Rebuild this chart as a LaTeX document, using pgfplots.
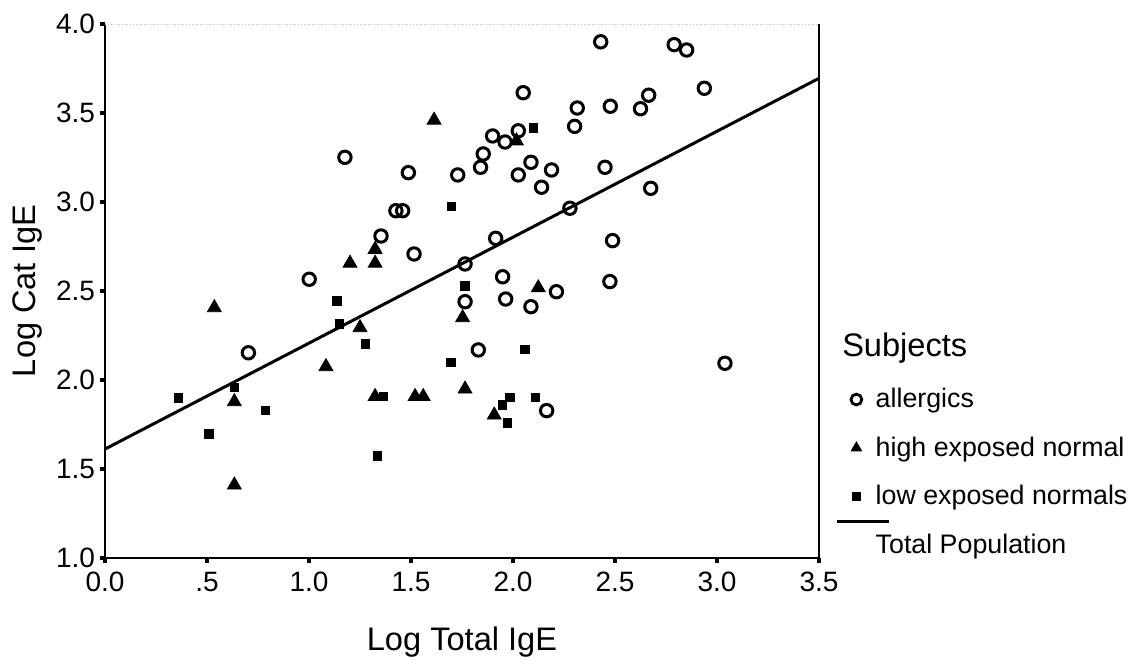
\documentclass[border=0pt]{standalone}
\usepackage{fontspec}
\setmainfont{Liberation Sans}
\usepackage{pgfplots}
\pgfplotsset{compat=1.18}
\pgfplotsset{
    marklegend/.style={legend image code/.code={\path (0pt,0pt) (12pt,0pt); \draw[##1] plot coordinates {(5pt,0pt)};}},
    linelegend/.style={legend image code/.code={\path (0pt,0pt) (12pt,0pt); \draw[##1, overlay] (-4.5pt,11.5pt) -- (21.5pt,11.5pt);}},
}

\begin{document}
\begin{tikzpicture}
\begin{axis}[
    name=ax,
    scale only axis,
    width=357pt, height=267pt,
    xmin=0, xmax=3.5, ymin=1, ymax=4,
    axis x line*=bottom, axis y line*=left,
    axis line style={-, line width=1.3pt},
    xtick={0,0.5,1,1.5,2,2.5,3,3.5},
    xticklabels={0.0,.5,1.0,1.5,2.0,2.5,3.0,3.5},
    ytick={1,1.5,2,2.5,3,3.5,4},
    yticklabels={1.0,1.5,2.0,2.5,3.0,3.5,4.0},
    tick align=outside,
    major tick length=2.5pt,
    tick style={line width=2pt, black},
    tick label style={font=\fontsize{14}{16}\selectfont},
    /pgf/number format/assume math mode=true,
    xticklabel style={yshift=-1pt},
    yticklabel style={xshift=1pt},
    xlabel={Log Total IgE},
    ylabel={Log Cat IgE},
    label style={font=\fontsize{16.3}{19}\selectfont},
    xlabel style={at={(axis description cs:0.5,-0.158)}, anchor=center},
    ylabel style={at={(axis description cs:-0.109,0.5)}, anchor=center},
    clip=false,
    legend style={at={(rel axis cs:1.036,0.326)}, anchor=north west,
        draw=none, fill=none, inner sep=0pt,
        font=\fontsize{13.4}{16}\selectfont, row sep=9pt},
    legend cell align=left,
]
% regression line, total population
\addplot[black, line width=1.5pt, forget plot] coordinates {(0,1.612) (3.5,3.695)};

% high exposed normal
\addplot[only marks, mark=triangle*, mark size=4pt, black, forget plot] coordinates {
    (1.613,3.46) (1.324,2.734) (1.201,2.656) (1.324,2.656) (1.753,2.35)
    (0.536,2.406) (1.25,2.294) (1.083,2.075) (0.634,1.878) (0.634,1.41)
    (1.324,1.907) (1.52,1.907) (1.56,1.907) (1.765,1.949) (1.908,1.803)
    (2.124,2.518) (2.017,3.343)
};
% low exposed normals
\addplot[only marks, mark=square*, mark size=2.1pt, black, forget plot] coordinates {
    (1.699,2.974) (1.765,2.528) (1.136,2.444) (1.149,2.315) (1.275,2.202)
    (2.10,3.417) (2.059,2.172) (1.696,2.099) (0.359,1.90) (0.634,1.957)
    (0.787,1.828) (0.51,1.697) (1.364,1.907) (1.336,1.573) (1.985,1.903)
    (1.948,1.86) (1.973,1.76) (2.11,1.903)
};
% allergics
\addplot[only marks, mark=o, mark size=3.1pt, mark options={line width=1.5pt}, black, forget plot] coordinates {
    (1.176,3.251) (1.487,3.165) (1.729,3.152) (1.426,2.951) (1.459,2.951)
    (1.353,2.809) (1.515,2.708) (1.001,2.566) (1.765,2.652) (1.765,2.44)
    (0.703,2.153) (2.43,3.90) (2.79,3.884) (2.851,3.854) (2.938,3.639)
    (2.05,3.614) (2.315,3.528) (2.477,3.538) (2.665,3.60) (2.625,3.524)
    (2.302,3.425) (2.026,3.40) (1.90,3.371) (1.961,3.337) (1.854,3.27)
    (1.841,3.195) (2.088,3.223) (2.026,3.152) (2.189,3.18) (2.14,3.083)
    (2.451,3.195) (2.675,3.077) (2.279,2.965) (1.915,2.796) (2.488,2.783)
    (1.949,2.58) (2.475,2.553) (2.213,2.496) (1.964,2.455) (2.088,2.412)
    (1.83,2.169) (3.039,2.094) (2.165,1.828)
};

% legend
\addlegendimage{only marks, mark=o, mark size=2.7pt, mark options={line width=1.4pt}, black, marklegend}
\addlegendentry{allergics}
\addlegendimage{only marks, mark=triangle*, mark size=3pt, black, marklegend}
\addlegendentry{high exposed normal}
\addlegendimage{only marks, mark=square*, mark size=2pt, black, marklegend}
\addlegendentry{low exposed normals}
\addlegendimage{black, line width=1.3pt, linelegend}
\addlegendentry{Total Population}

\node[anchor=west, font=\fontsize{16.3}{19}\selectfont, inner sep=0pt] at (rel axis cs:1.032,0.393) {Subjects};

% right frame line and faint top line
\draw[line width=1pt] (rel axis cs:1,0) -- (rel axis cs:1,1);
\draw[gray!50, densely dotted, line width=0.4pt] (rel axis cs:0,1) -- (rel axis cs:1,1);
\end{axis}
\path ([xshift=-52.5pt,yshift=-51.5pt]ax.south west) rectangle ([xshift=160pt,yshift=12pt]ax.north east);
\end{tikzpicture}
\end{document}
